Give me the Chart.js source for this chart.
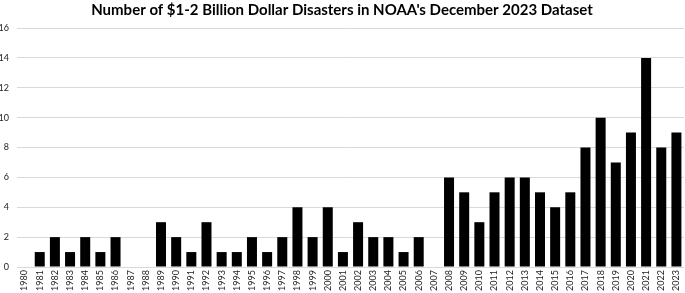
<!DOCTYPE html>
<html>
<head>
<meta charset="utf-8">
<script src="https://cdn.jsdelivr.net/npm/chart.js@4"></script>
<style>
  html, body { margin: 0; padding: 0; background: #fff; }
  #wrap { width: 685px; height: 293px; }
</style>
</head>
<body>
<div id="wrap"><canvas id="chart"></canvas></div>
<script>
const years = [];
for (let y = 1980; y <= 2023; y++) years.push(String(y));

const disasters = [0, 1, 2, 1, 2, 1, 2, 0, 0, 3,
                   2, 1, 3, 1, 1, 2, 1, 2, 4, 2,
                   4, 1, 3, 2, 2, 1, 2, 0, 6, 5,
                   3, 5, 6, 6, 5, 4, 5, 8, 10, 7,
                   9, 14, 8, 9];

const yTicks = [0, 2, 4, 6, 8, 10, 12, 14, 16];

const ctx = document.getElementById('chart').getContext('2d');
new Chart(ctx, {
    type: 'bar',
    data: {
        labels: years,
        datasets: [{
            label: 'Disasters',
            data: disasters,
            backgroundColor: '#000000',
            categoryPercentage: 1,
            barPercentage: 0.66
        }]
    },
    options: {
        responsive: true,
        maintainAspectRatio: false,
        animation: false,
        layout: { padding: { left: 0, right: 1, top: 0, bottom: 0 } },
        plugins: {
            legend: { display: false },
            tooltip: { enabled: false },
            title: {
                display: true,
                text: "Number of $1-2 Billion Dollar Disasters in NOAA's December 2023 Dataset",
                color: '#000',
                font: { family: 'Lato', size: 15, weight: 'bold' },
                padding: { top: 1, bottom: 9 }
            }
        },
        scales: {
            x: {
                grid: { display: false, drawTicks: false },
                border: { display: false },
                afterFit: function (axis) {
                    axis.height = 26;
                    axis.paddingLeft = 0;
                    axis.paddingRight = 0;
                },
                ticks: {
                    color: '#222',
                    font: { family: 'Lato', size: 9 },
                    minRotation: 90,
                    maxRotation: 90,
                    autoSkip: false,
                    padding: 3
                }
            },
            y: {
                min: 0,
                max: 16,
                afterBuildTicks: function (axis) {
                    axis.ticks = yTicks.map(v => ({ value: v }));
                },
                afterFit: function (axis) {
                    axis.width = 17;
                },
                grid: { color: '#d9d9d9', drawTicks: false, lineWidth: 1 },
                border: { display: false },
                ticks: {
                    color: '#222',
                    font: { family: 'Lato', size: 9 },
                    padding: 8
                }
            }
        }
    }
});
</script>
</body>
</html>
